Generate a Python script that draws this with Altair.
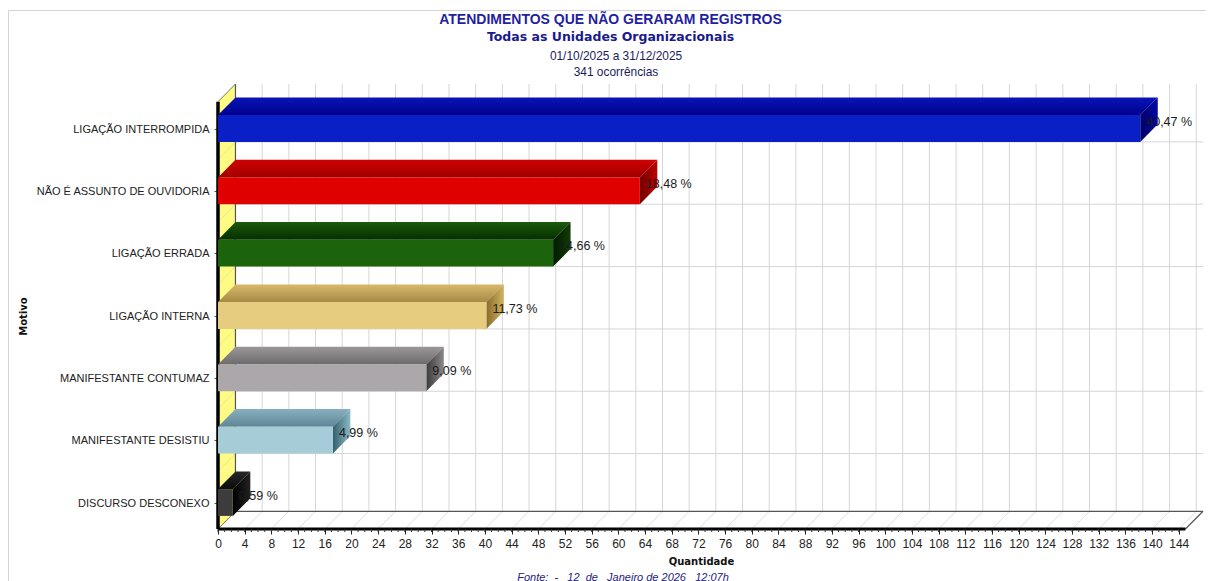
import altair as alt
import pandas as pd

motivos = ["LIGAÇÃO INTERROMPIDA", "NÃO É ASSUNTO DE OUVIDORIA", "LIGAÇÃO ERRADA", "LIGAÇÃO INTERNA",
           "MANIFESTANTE CONTUMAZ", "MANIFESTANTE DESISTIU", "DISCURSO DESCONEXO"]
quantidades = [138, 63, 50, 40, 31, 17, 2]
percentuais = ["40,47 %", "18,48 %", "14,66 %", "11,73 %", "9,09 %", "4,99 %", "0,59 %"]
frente = ["#0a20c6", "#e00000", "#1c640c", "#e6cc7e", "#aca7aa", "#a6ccd8", "#3c3c3c"]
topo_claro = ["#0a14b8", "#d00000", "#1c5a0c", "#d8b868", "#9c9899", "#88b0be", "#262626"]
topo_escuro = ["#00008c", "#a00000", "#052f00", "#a88a48", "#6c6a6c", "#5f8696", "#0c0c0c"]
lado_escuro = ["#000060", "#700000", "#021a00", "#8a6c2c", "#3c3c3c", "#34606c", "#000000"]
lado_claro = ["#0408a8", "#c00000", "#123c06", "#d2b462", "#8c888a", "#8cbac6", "#222222"]
ticks = list(range(0, 145, 4))
minor = list(range(0, 145))

X_MAX_AXIS = 145
DX = 2.62      # depth of the 3D effect, in quantity units
DY = 0.284     # depth of the 3D effect, in rank units
HALF = 0.215   # half a bar, in rank units
PW, PH = 985, 445
X_DOM = [0, X_MAX_AXIS + DX + 0.01]
Y_TOP, Y_BOT = -0.714, 6.425
BAR_SHIFT = 1.5  # bar ends sit slightly right of their ticks

xs = alt.Scale(domain=X_DOM, nice=False, zero=False)
ys = alt.Scale(domain=[Y_TOP, Y_BOT], reverse=True, nice=False, zero=False)
XA = alt.Axis(
    values=ticks, title="Quantidade", domain=False, grid=False, tickSize=5, tickColor="#222222",
    labelFont="Liberation Sans", labelFontSize=12, labelColor="#222222", labelPadding=4,
    labelOverlap=False, labelFlush=False, format="d",
    titleFont="DejaVu Sans", titleFontSize=10, titleFontWeight="bold", titleColor="#111111",
    titleX=483, titleY=27)
YA = alt.Axis(
    values=list(range(7)), title="Motivo", domain=False, grid=False, tickSize=4, tickColor="#555555",
    labelExpr="[" + ",".join("'" + m + "'" for m in motivos) + "][datum.value]",
    labelFont="Liberation Sans", labelFontSize=11, labelColor="#222222", labelPadding=5,
    labelOverlap=False, labelOffset=0.5,
    titleFont="DejaVu Sans", titleFontSize=10, titleFontWeight="bold", titleColor="#111111",
    titleX=-190, titleY=232)


def X(f="x"):
    return alt.X(f + ":Q", scale=xs, axis=XA)


def Y(f="y"):
    return alt.Y(f + ":Q", scale=ys, axis=YA)


def segs(rows, color, width=1):
    d = pd.DataFrame(rows, columns=["x", "x2", "y", "y2"])
    return alt.Chart(d).mark_rule(color=color, strokeWidth=width).encode(
        x=X(), x2="x2:Q", y=Y(), y2="y2:Q")


def grad(stops, vertical):
    return alt.Gradient(
        gradient="linear",
        stops=[alt.GradientStop(color=stops[0], offset=0), alt.GradientStop(color=stops[1], offset=1)],
        x1=0, x2=0 if vertical else 1, y1=0, y2=1 if vertical else 0)


back_bottom = Y_BOT - DY
layers = []

# side wall
wall = pd.DataFrame({"x": [0, DX], "y": [Y_TOP + DY, Y_TOP], "y2": [Y_BOT, back_bottom]})
layers.append(alt.Chart(wall).mark_area(color="#fdfb84", orient="vertical").encode(x=X(), y=Y(), y2="y2:Q"))

# grid on the back, wall and floor
grid_y = [i + HALF for i in range(6)]
layers.append(segs([[t + DX, t + DX, Y_TOP, back_bottom] for t in ticks], "#d6d6d6"))
layers.append(segs([[DX, X_DOM[1], g, g] for g in grid_y], "#d6d6d6"))
layers.append(segs([[0, DX, g + DY, g] for g in grid_y], "#eaea90"))
layers.append(segs([[t, t + DX, Y_BOT, back_bottom] for t in ticks[1:]], "#dedede"))
layers.append(segs([[DX, DX, Y_TOP, back_bottom]], "#555555", 1.2))
layers.append(segs([[DX, X_DOM[1], back_bottom, back_bottom]], "#555555", 1.2))
layers.append(segs([[X_MAX_AXIS, X_DOM[1], Y_BOT, back_bottom]], "#555555", 1.2))
layers.append(segs([[0, DX, Y_TOP + DY, Y_TOP], [0, DX, Y_BOT, back_bottom]], "#777755", 1))

# axis lines and minor ticks
layers.append(segs([[0, 0, Y_TOP + DY, Y_BOT]], "#000000", 3.5))
layers.append(segs([[0, X_MAX_AXIS, Y_BOT, Y_BOT]], "#000000", 3))
layers.append(alt.Chart(pd.DataFrame({"x": minor})).mark_rule(color="#333333", strokeWidth=1).encode(
    x=X(), y=alt.value(PH), y2=alt.value(PH + 3)))

# 3D bars
for i, v in enumerate(quantidades):
    top = i - HALF
    bot = i + HALF
    layers.append(alt.Chart(pd.DataFrame({"x": [0, DX], "x2": [v, v + DX], "y": [top, top - DY]}))
                  .mark_area(orient="horizontal", x2Offset=BAR_SHIFT,
                             color=grad([topo_claro[i], topo_escuro[i]], True))
                  .encode(x=X(), x2="x2:Q", y=Y()))
    layers.append(alt.Chart(pd.DataFrame({"x": [v, v + DX], "y": [top, top - DY], "y2": [bot, bot - DY]}))
                  .mark_area(orient="vertical", xOffset=BAR_SHIFT,
                             color=grad([lado_escuro[i], lado_claro[i]], False))
                  .encode(x=X(), y=Y(), y2="y2:Q"))
    layers.append(alt.Chart(pd.DataFrame({"x": [0], "x2": [v], "y": [top], "y2": [bot]}))
                  .mark_rect(color=frente[i], x2Offset=BAR_SHIFT)
                  .encode(x=X(), x2="x2:Q", y=Y(), y2="y2:Q"))

# value labels
labels = pd.DataFrame({"x": quantidades, "y": list(range(7)), "t": percentuais})
layers.append(alt.Chart(labels).mark_text(
    align="left", baseline="middle", dx=7.5, dy=-7, font="Liberation Sans", fontSize=12.5, color="#1a1a1a"
).encode(x=X(), y=Y(), text="t:N"))


def note(text, px, py, size, color, font="Liberation Sans", weight="normal", style="normal"):
    return alt.Chart(pd.DataFrame({"t": [text]})).mark_text(
        align="center", baseline="middle", font=font, fontSize=size, color=color,
        fontWeight=weight, fontStyle=style
    ).encode(x=alt.value(px - 218), y=alt.value(py - 84), text="t:N")


layers.append(note("01/10/2025 a 31/12/2025", 616, 55.5, 11.9, "#1c1c5c"))
layers.append(note("341 ocorrências", 616, 71.5, 11.9, "#1c1c5c"))
layers.append(note("Fonte:\u00a0\u00a0-\u00a0\u00a0\u00a012\u00a0\u00a0de\u00a0\u00a0\u00a0Janeiro\u00a0de\u00a02026\u00a0\u00a0\u00a012:07h",
                   623, 578, 11, "#1c1c7c", style="italic"))

# outer frame
layers.append(alt.Chart(pd.DataFrame({"a": [0]})).mark_rule(color="#d4d4d4").encode(
    x=alt.value(-209.5), x2=alt.value(988), y=alt.value(-73.5)))
layers.append(alt.Chart(pd.DataFrame({"a": [0]})).mark_rule(color="#d4d4d4").encode(
    x=alt.value(-209.5), y=alt.value(-73.5), y2=alt.value(500)))

chart = alt.layer(*layers).properties(
    width=PW, height=PH,
    title=alt.TitleParams(
        text="ATENDIMENTOS QUE NÃO GERARAM REGISTROS",
        subtitle="Todas as Unidades Organizacionais",
        anchor="middle", dx=-100, dy=33, offset=0,
        font="Liberation Sans", fontSize=14, fontWeight="bold", color="#1f1f9f",
        subtitleFont="DejaVu Sans", subtitleFontSize=12.5, subtitleFontWeight="bold",
        subtitleColor="#1a1a8c", subtitlePadding=4),
    padding={"left": 210, "top": 76, "right": 3, "bottom": 52},
    autosize=alt.AutoSizeParams(type="none"),
    background="white",
).configure_view(stroke=None)

chart.save("out.html", embed_options={"renderer": "svg", "actions": False})
